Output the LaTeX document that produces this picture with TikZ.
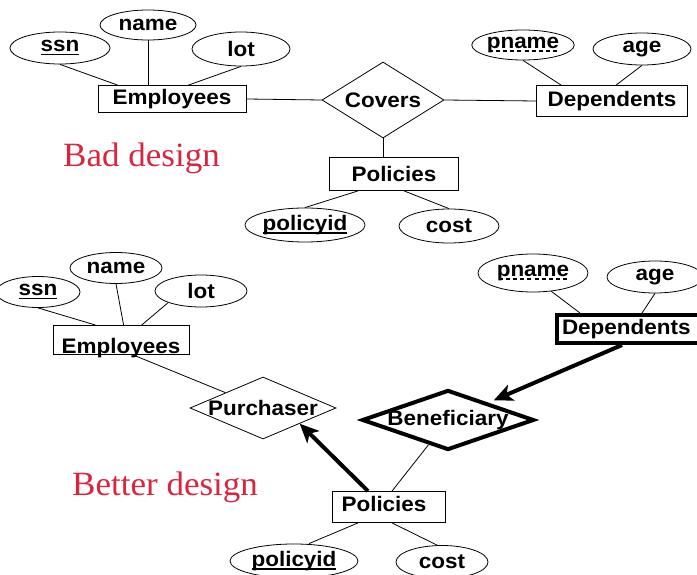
\documentclass[tikz,border=0pt]{standalone}
\usepackage{fontspec}
\usetikzlibrary{shapes.geometric,arrows.meta}
\setsansfont{Liberation Sans}[FakeStretch=1.07]
\newfontfamily\captionfont{Liberation Serif}[FakeStretch=1.03]
\definecolor{designred}{RGB}{215,38,61}
\newcommand{\zw}[1]{\makebox[0pt]{#1}}
% solid and dashed underlines for keys
\newcommand{\keyul}[1]{\setbox0\hbox{#1}\rlap{\rule[-3.5pt]{\wd0}{1.5pt}}\box0}
\newcommand{\partialul}[1]{\setbox0\hbox{#1}\rlap{\raisebox{-3.5pt}{\hbox to \wd0{\xleaders\hbox to 7pt{\hss\rule{4pt}{1.5pt}\hss}\hfill}}}\box0}

\begin{document}
\begin{tikzpicture}[x=1pt, y=-1pt,
	attr/.style={ellipse, draw, line width=0.8pt, inner sep=0pt, font=\sffamily\bfseries\fontsize{21}{23}\selectfont},
	entity/.style={rectangle, draw, line width=0.8pt, inner sep=0pt, font=\sffamily\bfseries\fontsize{21}{23}\selectfont},
	rel/.style={diamond, draw, line width=0.8pt, inner sep=0pt, font=\sffamily\bfseries\fontsize{21}{23}\selectfont},
	weakentity/.style={entity, line width=4pt},
	weakrel/.style={rel, line width=4pt},
	idarrow/.style={line width=4pt, -{Stealth[length=19pt, width=17pt, inset=5pt]}},
	caption/.style={text=designred, font=\captionfont\fontsize{34}{37}\selectfont, inner sep=0pt}]
	\useasboundingbox (0,0) rectangle (697,575);
	
	%%%%% BAD DESIGN %%%%%
	\node[attr, minimum width=100, minimum height=32] (ssnA) at (60,48) {\keyul{ssn}};
	\node[attr, minimum width=96, minimum height=30] (nameA) at (148,25) {name};
	\node[attr, minimum width=98, minimum height=34] (lotA) at (241,49) {lot};
	\node[entity, minimum width=148, minimum height=27] (empA) at (172,99) {Employees};
	\node[rel, minimum width=122, minimum height=76] (covA) at (383,100) {\zw{Covers}};
	\node[entity, minimum width=151, minimum height=31] (depA) at (612,101) {Dependents};
	\node[attr, minimum width=98, minimum height=30] (pnameA) at (523,45) {\partialul{pname}};
	\node[attr, minimum width=98, minimum height=32] (ageA) at (642,49) {age};
	\node[entity, minimum width=129, minimum height=33] (polA) at (394,174) {Policies};
	\node[attr, minimum width=120, minimum height=34] (pidA) at (305,225) {\keyul{policyid}};
	\node[attr, minimum width=100, minimum height=34] (costA) at (449,226) {cost};
	
	\draw[line width=0.8pt] (ssnA.south) -- ([xshift=20]empA.north west);
	\draw[line width=0.8pt] (nameA.south) -- (nameA.south |- empA.north);
	\draw[line width=0.8pt] (lotA.south) -- ([xshift=-58]empA.north east);
	\draw[line width=0.8pt] (empA.east) -- (covA.west);
	\draw[line width=0.8pt] (covA.east) -- (depA.west);
	\draw[line width=0.8pt] (covA.south) -- (covA.south |- polA.north);
	\draw[line width=0.8pt] (pnameA.south) -- ([xshift=25]depA.north west);
	\draw[line width=0.8pt] (ageA.south) -- ([xshift=80]depA.north west);
	\draw[line width=0.8pt] ([xshift=-36]polA.south) -- (pidA.north);
	\draw[line width=0.8pt] ([xshift=10]polA.south) -- (costA.north);
	
	\node[caption, anchor=base west] (bad) at (63,167) {Bad design};
	
	%%%%% BETTER DESIGN %%%%%
	\node[attr, minimum width=84, minimum height=31] (ssnB) at (38,292) {\keyul{ssn}};
	\node[attr, minimum width=92, minimum height=31] (nameB) at (116,268) {name};
	\node[attr, minimum width=92, minimum height=32] (lotB) at (201,291) {lot};
	\node[entity, minimum width=136, minimum height=29] (empB) at (121,340) {\raisebox{-8pt}[\height][\depth]{Employees}};
	\node[rel, minimum width=146, minimum height=62] (purB) at (263,408) {\zw{Purchaser}};
	\node[attr, minimum width=110, minimum height=38] (pnameB) at (533,273) {\partialul{pname}};
	\node[attr, minimum width=96, minimum height=32] (ageB) at (655,277) {age};
	\node[weakentity, anchor=west, minimum height=28, inner xsep=5pt, text width=142pt, align=left] (depB) at (555,329) {Dependents};
	\node[weakrel, minimum width=172, minimum height=60] (benB) at (448,420) {\zw{Beneficiary}};
	\node[entity, minimum width=113, minimum height=31] (polB) at (389,507) {\raisebox{3pt}[\height][\depth]{Policies\hspace{10pt}}};
	\node[attr, minimum width=128, minimum height=34] (pidB) at (294,561) {\keyul{policyid}};
	\node[attr, minimum width=92, minimum height=33] (costB) at (442,562) {cost};
	
	\draw[line width=0.8pt] (ssnB.south) -- ([xshift=43]empB.north west);
	\draw[line width=0.8pt] (nameB.south) -- ([xshift=71]empB.north west);
	\draw[line width=0.8pt] (lotB.south west) -- ([xshift=89]empB.north west);
	\draw[line width=0.8pt] ([xshift=12]empB.south) -- (purB);
	\draw[line width=0.8pt] (pnameB.-45) -- ([xshift=25]depB.north west);
	\draw[line width=0.8pt] (ageB.south) -- ([xshift=87]depB.north west);
	\draw[idarrow, shorten >=6pt] ([xshift=-11]depB.south) -- (benB);
	\draw[idarrow] ([xshift=-21]polB.north) -- (purB.south east);
	\draw[line width=0.8pt] ([xshift=3]polB.north) -- (benB);
	\draw[line width=0.8pt] ([xshift=-31]polB.south) -- ([xshift=15]pidB.north);
	\draw[line width=0.8pt] ([xshift=3]polB.south) -- ([xshift=-5]costB.north);
	
	\node[caption, anchor=base west] (better) at (72,495) {Better design};
\end{tikzpicture}
\end{document}
